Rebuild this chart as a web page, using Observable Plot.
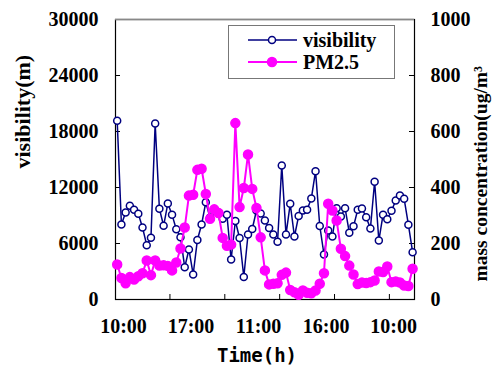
<!DOCTYPE html>
<html><head><meta charset="utf-8">
<script src="https://cdn.jsdelivr.net/npm/d3@7"></script>
<script src="https://cdn.jsdelivr.net/npm/@observablehq/plot@0.6"></script>
<style>
body{margin:0;background:#fff;}
#wrap{position:relative;width:504px;height:374px;overflow:hidden;background:#fff;}
</style></head><body><div id="wrap"></div>
<script>
// Visibility (m), left axis
const visibility = [19150, 8040, 9320, 10040, 9610, 9180, 7710, 5820, 6610, 18860,
  9720, 7900, 10290, 9070, 7530, 6680, 3460, 5360, 2680, 6370,
  8040, 10420, 8790, 9540, 9320, 8650, 9070, 4290, 8410, 6590,
  2410, 6960, 7550, 9540, 9210, 8460, 7660, 6960, 6180, 14360,
  6960, 10250, 6750, 8950, 9540, 9610, 10820, 13750, 7880, 4820,
  7390, 6750, 9780, 8890, 9780, 7160, 7840, 9620, 9750, 8820,
  7610, 12610, 6320, 9090, 8600, 9510, 10610, 11140, 10790, 8010, 5070];
// PM2.5 mass concentration (ug/m3), right axis
const pm25 = [125, 77, 58, 80, 71, 83, 94, 139, 87, 139,
  121, 122, 120, 104, 132, 182, 257, 371, 374, 463,
  467, 377, 288, 322, 309, 220, 192, 196, 630, 330,
  398, 518, 395, 327, 222, 104, 54, 56, 58, 88,
  96, 34, 26, 17, 32, 24, 22, 32, 56, 94,
  342, 318, 282, 181, 155, 121, 89, 55, 61, 59,
  62, 68, 100, 98, 118, 62, 64, 61, 50, 48, 110];
const timeLabels = ["10:00", "17:00", "11:00", "16:00", "10:00"];
const visTicks = [0, 6000, 12000, 18000, 24000, 30000];
const massTicks = [0, 200, 400, 600, 800, 1000];
const seriesNames = ["visibility", "PM2.5"];

const visMax = 30000, massMax = 1000, k = visMax / massMax;
const n = visibility.length;
const vis = visibility.map((v, i) => ({i, v}));
const pm = pm25.map((v, i) => ({i, v: v * k}));
const labelPos = timeLabels.map((t, j) => ({t, x: 1.5 + 16 * j}));
const tickPos = d3.range(5).map(j => 12.5 + 13 * j);

const W = 504, H = 374, mL = 115, mR = 90, mT = 19, mB = 75;
const pw = W - mL - mR, ph = H - mT - mB;
const serif = "'Liberation Serif','Times New Roman',serif";
const BLUE = "#000080", MAG = "#ff00ff";

const chart = Plot.plot({
  width: W, height: H,
  marginLeft: mL, marginRight: mR, marginTop: mT, marginBottom: mB,
  x: {domain: [-0.4, n - 1 + 0.45], axis: null},
  y: {domain: [0, visMax], axis: null},
  style: {fontFamily: serif, fontWeight: "bold", fontSize: "20px", color: "#000", background: "#fff", overflow: "visible"},
  marks: [
    Plot.frame({stroke: "#000", strokeWidth: 1.2}),
    Plot.ruleY([visMax], {stroke: "#888", strokeWidth: 1.5}),
    Plot.tickY(visTicks.slice(1, -1), {y: d => d, insetRight: pw - 5, stroke: "#000"}),
    Plot.tickY(massTicks.slice(1, -1), {y: d => d * k, insetLeft: pw - 5, stroke: "#000"}),
    Plot.tickX(tickPos, {x: d => d, insetTop: ph - 5, stroke: "#000"}),
    Plot.text(visTicks, {y: d => d, text: d => String(d), frameAnchor: "left", dx: -17, textAnchor: "end"}),
    Plot.text(massTicks, {y: d => d * k, text: d => String(d), frameAnchor: "right", dx: 16, textAnchor: "start"}),
    Plot.text(labelPos, {x: "x", text: "t", frameAnchor: "bottom", dy: 33}),
    Plot.text(["Time(h)"], {text: d => d, frameAnchor: "bottom", dx: -8, dy: 62, fontFamily: "'DejaVu Sans Mono',monospace", fontSize: 19}),
    Plot.text(["visibility(m)"], {text: d => d, frameAnchor: "left", dx: -93, dy: 9, rotate: -90, fontSize: 22}),
    Plot.text(["mass concentration(ug/m³"], {text: d => d, frameAnchor: "bottom-right", dx: 72, dy: -18, rotate: -90, textAnchor: "start", fontSize: 19.5}),
    Plot.line(vis, {x: "i", y: "v", stroke: BLUE, strokeWidth: 1.5}),
    Plot.dot(vis, {x: "i", y: "v", r: 3.5, stroke: BLUE, fill: "#fff", strokeWidth: 1.5}),
    Plot.line(pm, {x: "i", y: "v", stroke: MAG, strokeWidth: 2}),
    Plot.dot(pm, {x: "i", y: "v", r: 4.5, fill: MAG, stroke: MAG})
  ]
});
const wrap = document.getElementById("wrap");
wrap.appendChild(chart);

// Legend
const lg = d3.select(wrap).append("svg")
  .style("position", "absolute").style("left", "228px").style("top", "25px")
  .attr("width", 167).attr("height", 54)
  .style("font-family", serif).style("font-weight", "bold").style("font-size", "20px");
lg.append("rect").attr("x", 0.5).attr("y", 0.5).attr("width", 166).attr("height", 53)
  .attr("fill", "#fff").attr("stroke", "#777");
const styles = [{c: BLUE, fill: "#fff", r: 3.5, w: 1.5}, {c: MAG, fill: MAG, r: 4.5, w: 2}];
seriesNames.forEach((name, j) => {
  const yy = 15 + 22 * j, s = styles[j];
  lg.append("line").attr("x1", 20).attr("x2", 69).attr("y1", yy).attr("y2", yy)
    .attr("stroke", s.c).attr("stroke-width", s.w);
  lg.append("circle").attr("cx", 44).attr("cy", yy).attr("r", s.r)
    .attr("fill", s.fill).attr("stroke", s.c).attr("stroke-width", 1.5);
  lg.append("text").attr("x", 75).attr("y", yy).attr("dy", "0.35em").text(name);
});
</script>
</body></html>
